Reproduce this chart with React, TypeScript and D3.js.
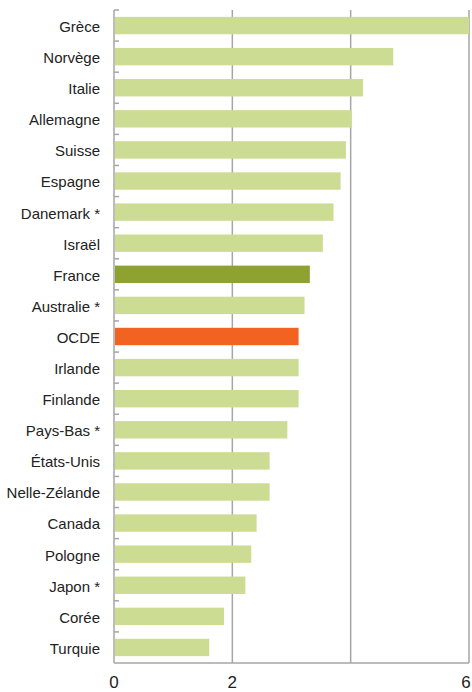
import * as d3 from "d3";
import { useEffect, useRef } from "react";

const countries = [
    "Grèce",
    "Norvège",
    "Italie",
    "Allemagne",
    "Suisse",
    "Espagne",
    "Danemark *",
    "Israël",
    "France",
    "Australie *",
    "OCDE",
    "Irlande",
    "Finlande",
    "Pays-Bas *",
    "États-Unis",
    "Nelle-Zélande",
    "Canada",
    "Pologne",
    "Japon *",
    "Corée",
    "Turquie",
];

const values = [
    6.0, 4.72, 4.21, 4.02, 3.92, 3.83, 3.71, 3.53, 3.31, 3.22, 3.12, 3.12,
    3.12, 2.93, 2.63, 2.63, 2.41, 2.32, 2.22, 1.86, 1.61,
];

const gridValues = [2, 4, 6];
const tickLabels = [0, 2, 6];

const App = () => {
    const svgRef = useRef<SVGSVGElement | null>(null);

    const dimensions = { width: 472, height: 692 };
    const margin = { top: 10, right: 3, bottom: 29, left: 114 };

    useEffect(() => {
        const svg = d3.select(svgRef.current);
        svg.selectAll("*").remove();

        const rows = countries.map((name, i) => ({ name, value: values[i] }));

        const xScale = d3
            .scaleLinear()
            .domain([0, 6])
            .range([margin.left, dimensions.width - margin.right]);

        const yScale = d3
            .scaleBand<string>()
            .domain(countries)
            .range([margin.top, dimensions.height - margin.bottom])
            .paddingInner(0.44)
            .paddingOuter(0.22);

        const bottom = dimensions.height - margin.bottom;
        const step = yScale.step();
        const bandTop = (name: string) =>
            yScale(name)! - (step * yScale.paddingInner()) / 2;

        // Gridlines
        svg.append("g")
            .selectAll("line")
            .data(gridValues)
            .join("line")
            .attr("x1", (d) => xScale(d))
            .attr("x2", (d) => xScale(d))
            .attr("y1", margin.top)
            .attr("y2", bottom)
            .attr("stroke", "#a6a6a6")
            .attr("stroke-width", 1.5);

        // Bars
        svg.append("g")
            .selectAll("rect")
            .data(rows)
            .join("rect")
            .attr("x", xScale(0) + 1)
            .attr("y", (d) => yScale(d.name)!)
            .attr("width", (d) => xScale(d.value) - xScale(0) - 1)
            .attr("height", yScale.bandwidth())
            .attr("fill", (d) =>
                d.name === "France"
                    ? "#8ea232"
                    : d.name === "OCDE"
                    ? "#f26322"
                    : "#cddc93"
            );

        // Left axis with ticks between categories
        const yAxis = svg.append("g");
        yAxis.append("line")
            .attr("x1", xScale(0))
            .attr("x2", xScale(0))
            .attr("y1", margin.top)
            .attr("y2", bottom)
            .attr("stroke", "#a6a6a6")
            .attr("stroke-width", 1.5);
        yAxis.selectAll("line.tick")
            .data(countries)
            .join("line")
            .attr("class", "tick")
            .attr("x1", xScale(0))
            .attr("x2", xScale(0) + 5)
            .attr("y1", (d) => bandTop(d))
            .attr("y2", (d) => bandTop(d))
            .attr("stroke", "#a6a6a6")
            .attr("stroke-width", 1.5);
        yAxis.selectAll("text")
            .data(countries)
            .join("text")
            .attr("x", 100)
            .attr("y", (d) => yScale(d)! + yScale.bandwidth() / 2 + 1)
            .attr("dy", "0.36em")
            .attr("text-anchor", "end")
            .attr("font-family", "'Liberation Sans', Arial, sans-serif")
            .attr("font-size", 15)
            .attr("fill", "#222")
            .text((d) => d);

        // Bottom axis
        const xAxis = svg.append("g");
        xAxis.append("line")
            .attr("x1", xScale(0))
            .attr("x2", xScale(6))
            .attr("y1", bottom)
            .attr("y2", bottom)
            .attr("stroke", "#a6a6a6")
            .attr("stroke-width", 1.5);
        xAxis.selectAll("text")
            .data(tickLabels)
            .join("text")
            .attr("x", (d) => Math.min(xScale(d), dimensions.width - 6))
            .attr("y", 688)
            .attr("text-anchor", "middle")
            .attr("font-family", "'Liberation Sans', Arial, sans-serif")
            .attr("font-size", 17)
            .attr("fill", "#222")
            .text((d) => d);
    }, []);

    return (
        <div style={{ position: "absolute", left: 0, top: 0 }}>
            <svg
                ref={svgRef}
                width={dimensions.width}
                height={dimensions.height}
                style={{ display: "block" }}
            />
        </div>
    );
};

export default App;
